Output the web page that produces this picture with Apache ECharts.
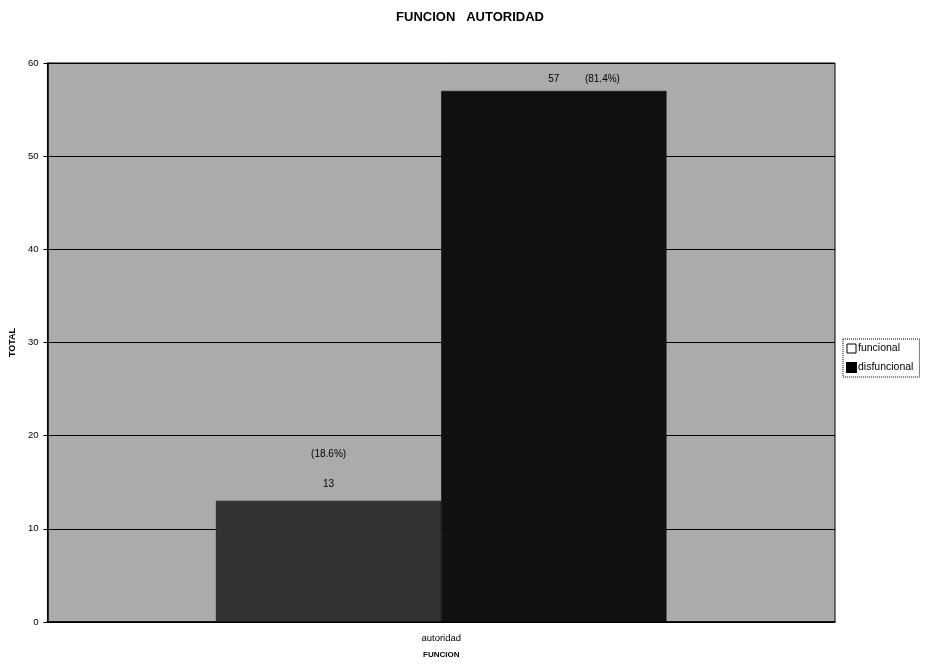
<!DOCTYPE html>
<html>
<head>
<meta charset="utf-8">
<script src="https://cdn.jsdelivr.net/npm/echarts@6/dist/echarts.min.js"></script>
<style>
html,body{margin:0;padding:0;background:#fff;}
#c{width:929px;height:670px;}
</style>
</head>
<body>
<div id="c"></div>
<script>
var categories = ['autoridad'];
var seriesNames = ['funcional', 'disfuncional'];
var funcional = [13];
var disfuncional = [57];
var yTicks = [0, 10, 20, 30, 40, 50, 60];

var total = funcional[0] + disfuncional[0];
function pct(v) { return '(' + (v / total * 100).toFixed(1) + '%)'; }

var font = '"Liberation Sans", Arial, sans-serif';
var chart = echarts.init(document.getElementById('c'));
chart.setOption({
  animation: false,
  backgroundColor: '#ffffff',
  textStyle: { fontFamily: font },
  title: {
    text: 'FUNCION   AUTORIDAD',
    left: 465, textAlign: 'center', top: 6,
    textStyle: { fontSize: 13, fontWeight: 'bold', color: '#000', fontFamily: font }
  },
  legend: {
    orient: 'vertical',
    left: 843, top: 339,
    itemWidth: 9, itemHeight: 9, itemGap: 8,
    padding: [4, 6, 4, 3],
    borderColor: '#000', borderWidth: 1, borderType: 'dotted',
    backgroundColor: '#fff',
    textStyle: { fontSize: 10.5, color: '#000', fontFamily: font, padding: [0, 0, 0, -3] },
    data: [
      { name: seriesNames[0], icon: 'rect', itemStyle: { color: '#ffffff', borderColor: '#000', borderWidth: 1 } },
      { name: seriesNames[1], icon: 'rect', itemStyle: { color: '#000000' } }
    ]
  },
  grid: {
    left: 45, right: 94, top: 63, bottom: 48,
    show: true, backgroundColor: '#ababab', borderColor: '#000', borderWidth: 1
  },
  xAxis: {
    type: 'category',
    data: categories,
    name: 'FUNCION',
    nameLocation: 'middle',
    nameGap: 29,
    nameTextStyle: { fontSize: 8, fontWeight: 'bold', color: '#000', fontFamily: font },
    axisLine: { lineStyle: { color: '#000', width: 1.5 } },
    axisTick: { show: false },
    axisLabel: { fontSize: 9.5, color: '#000', margin: 11, fontFamily: font }
  },
  yAxis: {
    type: 'value',
    min: yTicks[0], max: yTicks[yTicks.length - 1], interval: 10,
    name: 'TOTAL',
    nameLocation: 'middle',
    nameGap: 27,
    nameTextStyle: { fontSize: 9, fontWeight: 'bold', color: '#000', fontFamily: font },
    axisLine: { show: true, lineStyle: { color: '#000', width: 1.5 } },
    axisTick: { show: true, length: 4, lineStyle: { color: '#000' } },
    axisLabel: { fontSize: 9.5, color: '#000', margin: 9, fontFamily: font },
    splitLine: { show: true, lineStyle: { color: '#000', width: 1 } }
  },
  series: [
    {
      name: seriesNames[0], type: 'bar', data: funcional,
      barGap: '0%', barCategoryGap: '42.8%',
      itemStyle: { color: '#333333', borderColor: '#000', borderWidth: 0.5 },
      label: {
        show: true, position: 'top', distance: 2,
        formatter: function (p) { return '{p|' + pct(p.value) + '}\n{v|' + p.value + '}'; },
        rich: {
          p: { fontSize: 10, color: '#000', lineHeight: 30, fontFamily: font },
          v: { fontSize: 10, color: '#000', lineHeight: 30, fontFamily: font }
        }
      }
    },
    {
      name: seriesNames[1], type: 'bar', data: disfuncional,
      itemStyle: { color: '#101010', borderColor: '#000', borderWidth: 0.5 },
      label: {
        show: true, position: 'top', distance: 6,
        formatter: function (p) { return '{s|}{v|' + p.value + '}{g|}{p|' + pct(p.value) + '}'; },
        rich: {
          s: { width: 64 },
          g: { width: 22 },
          v: { fontSize: 10, color: '#000', fontFamily: font },
          p: { fontSize: 10, color: '#000', width: 42, fontFamily: font }
        }
      }
    }
  ]
});
</script>
</body>
</html>
